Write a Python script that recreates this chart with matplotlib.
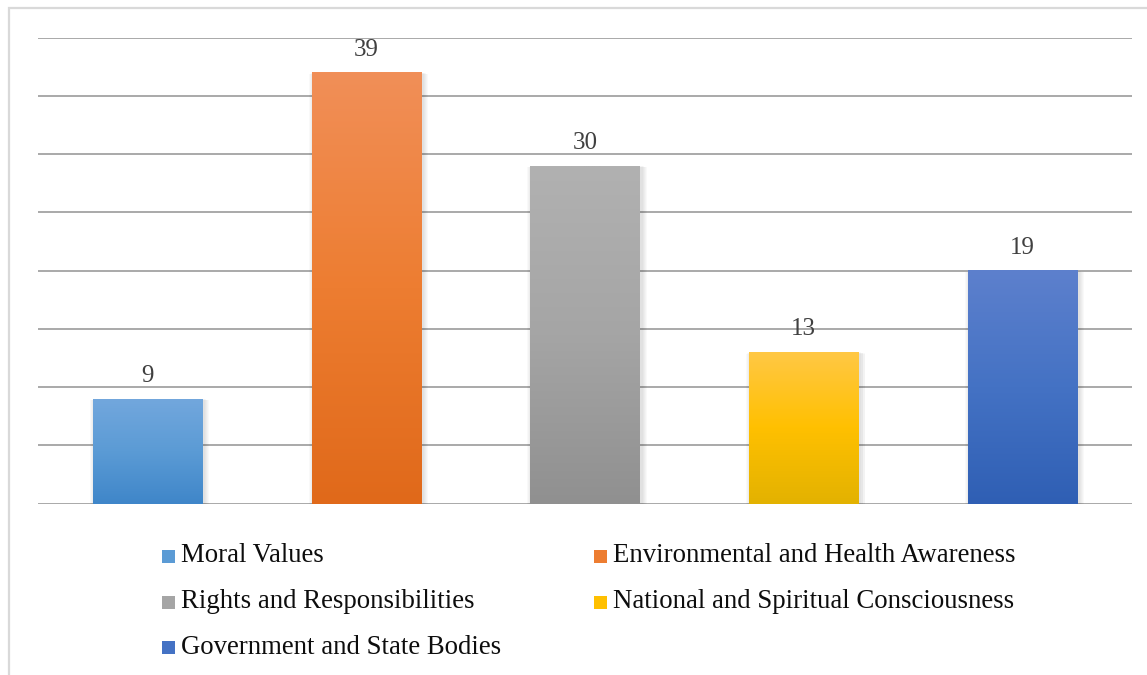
import numpy as np
import matplotlib
matplotlib.use("Agg")
import matplotlib.pyplot as plt
from matplotlib.colors import LinearSegmentedColormap
from matplotlib.patches import Rectangle

plt.rcParams['font.family'] = ['Liberation Serif', 'DejaVu Serif']

categories = ["Moral Values", "Environmental and Health Awareness",
              "Rights and Responsibilities", "National and Spiritual Consciousness",
              "Government and State Bodies"]
# bar heights as drawn in the picture, and the text shown above each bar
bar_heights = [9, 37, 29, 13, 20]
bar_labels = ["9", "39", "30", "13", "19"]
# gradient colours per bar: top, middle, bottom
bar_colors = [("#72a7dd", "#5b9bd5", "#3f86c9"),
              ("#f18f58", "#ed7d31", "#e0691a"),
              ("#b1b1b1", "#a5a5a5", "#909090"),
              ("#ffc845", "#ffc000", "#e3b200"),
              ("#5d80cd", "#4472c4", "#2f5fb4")]

W, H = 1147, 675
fig = plt.figure(figsize=(W / 100, H / 100), dpi=100)

# outer chart frame (runs past the right and bottom edges)
fig.patches.append(Rectangle((9 / W, -0.02), 1.05, 1 - 8 / H + 0.02,
                             transform=fig.transFigure, fill=False,
                             edgecolor="#d9d9d9", lw=1.6))

ax = fig.add_axes([38 / W, (H - 503.7) / H, (1132 - 38) / W, (503.7 - 37.5) / H])
ax.set_xlim(-0.5, 4.5)
ax.set_ylim(0, 40)
ax.set_yticks(np.arange(0, 41, 5))
ax.yaxis.grid(True, color="#a3a3a3", lw=1.3)
ax.set_axisbelow(True)
ax.tick_params(left=False, bottom=False, labelleft=False, labelbottom=False)
for s in ax.spines.values():
    s.set_visible(False)

width = 0.5
px_x = 5 / 1094
px_y = 40 / 466.2
grad = np.linspace(0, 1, 256).reshape(-1, 1)
for i, (h, lab, cols) in enumerate(zip(bar_heights, bar_labels, bar_colors)):
    # soft shadow
    for k in range(1, 6):
        ax.add_patch(Rectangle((i - width / 2 + 2 * px_x - k * px_x, -k * px_y * 0.6),
                               width + 2 * k * px_x, h + k * px_y * 0.3,
                               facecolor="black", edgecolor="none", alpha=0.025, zorder=1.5))
    cmap = LinearSegmentedColormap.from_list("g%d" % i, [cols[0], cols[1], cols[2]])
    ax.imshow(grad, cmap=cmap, extent=[i - width / 2, i + width / 2, 0, h],
              origin="upper", aspect="auto", zorder=2, interpolation="bilinear")
    ax.annotate(lab, (i, h), xytext=(0, 16.5), textcoords="offset points",
                ha="center", va="center", fontsize=18, color="#404040")
ax.set_xlim(-0.5, 4.5)
ax.set_ylim(0, 40)

# legend, filled row by row like the original
leg_cols = [162, 594]
leg_rows = [556, 602, 647]
for j, name in enumerate(categories):
    r, c = divmod(j, 2)
    x0, yc = leg_cols[c], leg_rows[r]
    fig.patches.append(Rectangle((x0 / W, (H - yc - 6.5) / H), 13 / W, 13 / H,
                                 transform=fig.transFigure,
                                 facecolor=bar_colors[j][1], edgecolor="none"))
    fig.text((x0 + 19) / W, (H - yc) / H, name, ha="left", va="center",
             fontsize=19.3, color="#0d0d0d")

fig.savefig("out.png", dpi=100)
